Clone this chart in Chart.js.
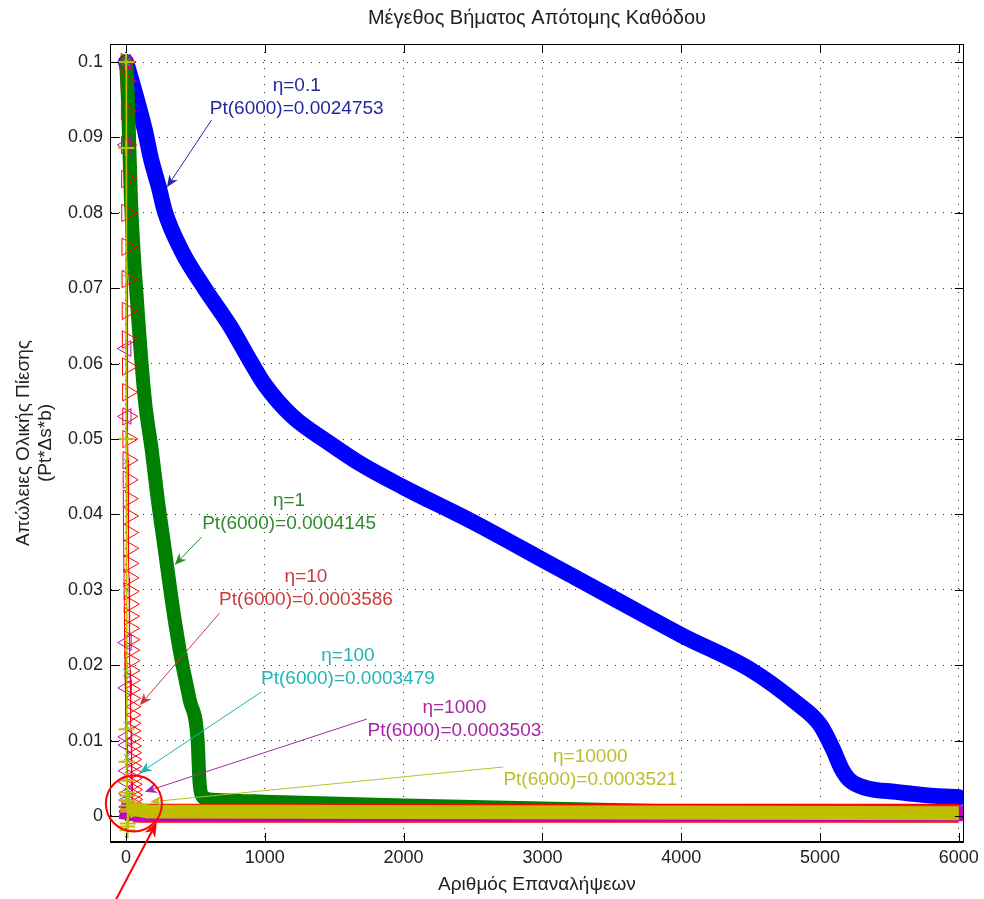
<!DOCTYPE html>
<html>
<head>
<meta charset="utf-8">
<script src="https://cdn.jsdelivr.net/npm/chart.js@4.4.1/dist/chart.umd.min.js"></script>
<style>
  html, body { margin: 0; padding: 0; background: #ffffff; }
  canvas { display: block; }
</style>
</head>
<body>
<canvas id="chart" width="984" height="899"></canvas>
<script>
// ---- data: total pressure loss per iteration for each step-size parameter η ----
const etaLabels = ['η=0.1', 'η=1', 'η=10', 'η=100', 'η=1000', 'η=10000'];
const finalLossText = ['0.0024753', '0.0004145', '0.0003586', '0.0003479', '0.0003503', '0.0003521'];

const eta01Iter = [1, 30, 79, 136, 180, 237, 280, 400, 566, 750, 900, 1000, 1200, 1462, 1700, 2000, 2500, 3000, 3500, 4000, 4500, 4830, 5000, 5090, 5154, 5211, 5333, 5548, 5800, 6000];
const eta01Loss = [0.1, 0.0982, 0.095, 0.091, 0.0872, 0.0834, 0.0802, 0.0750, 0.0700, 0.0650, 0.0602, 0.0572, 0.0530, 0.0495, 0.0466, 0.0436, 0.0390, 0.0340, 0.0290, 0.0240, 0.0194, 0.0150, 0.0121, 0.0090, 0.0063, 0.0048, 0.0037, 0.0032, 0.0027, 0.0024753];

const eta1Iter = [1, 14, 36, 79, 136, 186, 229, 280, 330, 387, 459, 516, 530, 545, 580, 700, 1000, 2000, 3000, 3500, 4000, 5000, 6000];
const eta1Loss = [0.1, 0.095, 0.0817, 0.0684, 0.0552, 0.0485, 0.042, 0.0353, 0.0286, 0.022, 0.0154, 0.0101, 0.0045, 0.0028, 0.0023, 0.0021, 0.0019, 0.0014, 0.0010, 0.0008, 0.0006, 0.0005, 0.0004145];

const eta10Iter = [1, 2, 3, 4, 5, 6, 7, 8, 9, 10, 11, 12, 13, 14, 15, 16, 17, 18, 19, 20, 21, 22, 23, 24, 25, 26, 27, 28, 29, 30, 31, 32, 33, 34, 35, 36, 37, 38, 39, 40, 41, 42, 43, 44, 45, 46, 47, 48, 49, 50, 51, 52, 53, 120, 6000];
const eta10Loss = [0.1, 0.0975, 0.0935, 0.089, 0.0845, 0.080, 0.0755, 0.0712, 0.067, 0.0632, 0.0596, 0.0562, 0.053, 0.050, 0.0472, 0.0446, 0.0421, 0.0398, 0.0376, 0.0355, 0.0335, 0.0316, 0.0298, 0.0281, 0.0265, 0.0249, 0.0234, 0.022, 0.0206, 0.0193, 0.018, 0.0168, 0.0156, 0.0145, 0.0134, 0.0123, 0.0113, 0.0103, 0.0093, 0.0084, 0.0075, 0.0066, 0.0058, 0.005, 0.0042, 0.0035, 0.0028, 0.0022, 0.0016, 0.0011, 0.0007, 0.0005, 0.0004, 0.00037, 0.0003586];

const eta100Iter = [1, 2, 3, 4, 5, 6, 7, 8, 9, 10, 11, 12, 13, 60, 6000];
const eta100Loss = [0.1, 0.072, 0.047, 0.030, 0.019, 0.012, 0.0078, 0.005, 0.0032, 0.002, 0.0013, 0.0009, 0.0006, 0.00036, 0.0003479];

const eta1000Iter = [1, 2, 3, 4, 5, 6, 7, 8, 9, 10, 11, 12, 13, 14, 15, 60, 6000];
const eta1000Loss = [0.1, 0.089, 0.062, 0.053, 0.023, 0.017, 0.0105, 0.0094, 0.006, 0.0045, 0.003, 0.0021, 0.0012, 0.0007, 0.0005, 0.00036, 0.0003503];

const eta10000Iter = [1, 2, 3, 4, 5, 6, 7, 8, 9, 10, 11, 12, 13, 14, 15, 16, 60, 160, 6000];
const eta10000Loss = [0.1, 0.0886, 0.05, 0.0115, 0.0072, 0.0047, 0.0031, 0.0021, -0.0014, 0.0027, -0.0019, 0.002, -0.001, 0.0014, 0.0009, 0.0006, 0.0009, 0.0006, 0.0003521];

const xTicks = [0, 1000, 2000, 3000, 4000, 5000, 6000];
const xTickLabels = ['0', '1000', '2000', '3000', '4000', '5000', '6000'];
const yTicks = [0, 0.01, 0.02, 0.03, 0.04, 0.05, 0.06, 0.07, 0.08, 0.09, 0.1];
const yTickLabels = ['0', '0.01', '0.02', '0.03', '0.04', '0.05', '0.06', '0.07', '0.08', '0.09', '0.1'];

// ---- styling ----
const FONT = '"Liberation Sans", Arial, Helvetica, sans-serif';
const TEXT = '#222222';
const markerUntil = 55; // iterations that keep individual markers; later points form a solid band

function toPoints(iters, vals) {
  return iters.map((x, i) => ({ x: x, y: vals[i] }));
}

function series(iters, vals, o) {
  return {
    data: toPoints(iters, vals),
    borderColor: o.color,
    backgroundColor: o.color,
    borderWidth: o.band,
    borderJoinStyle: 'round',
    borderCapStyle: o.cap || 'butt',
    tension: 0,
    cubicInterpolationMode: o.smooth ? 'monotone' : 'default',
    order: o.order,
    pointStyle: o.marker || false,
    pointRotation: o.rot || 0,
    pointRadius: ctx => (o.marker && iters[ctx.dataIndex] <= markerUntil) ? o.r : 0,
    pointBorderColor: o.color,
    pointBackgroundColor: 'rgba(0,0,0,0)',
    pointBorderWidth: o.pw || 1,
    segment: o.marker ? {
      borderWidth: ctx => iters[ctx.p1DataIndex] > markerUntil ? o.band : 1
    } : undefined
  };
}

const datasets = [
  series(eta01Iter, eta01Loss, { color: '#0000ff', band: 16, cap: 'round', order: 6, smooth: true }),
  series(eta1Iter, eta1Loss, { color: '#008000', band: 14, cap: 'round', order: 5, smooth: true }),
  series(eta10Iter, eta10Loss, { color: '#ff0000', band: 19, order: 4, marker: 'triangle', rot: 90, r: 10 }),
  series(eta100Iter, eta100Loss, { color: '#00bfbf', band: 16, order: 3, marker: 'crossRot', r: 5 }),
  series(eta1000Iter, eta1000Loss, { color: '#bf00bf', band: 16, cap: 'square', order: 2, marker: 'triangle', rot: -90, r: 9 }),
  series(eta10000Iter, eta10000Loss, { color: '#bfbf00', band: 14, order: 1, marker: 'cross', r: 8, pw: 2 })
];

// annotation layout in data coordinates: text centre (first line) and arrow tail -> head
const notes = [
  { color: '#2626a0', tx: 1230, ty: 0.0969, ax0: 616, ay0: 0.0923, ax1: 295, ay1: 0.0834 },
  { color: '#2e8b2e', tx: 1175, ty: 0.0418, ax0: 545, ay0: 0.0370, ax1: 351, ay1: 0.0333 },
  { color: '#cc3b3b', tx: 1297, ty: 0.0317, ax0: 674, ay0: 0.0269, ax1: 100, ay1: 0.0147 },
  { color: '#22b5b5', tx: 1599, ty: 0.0212, ax0: 975, ay0: 0.01645, ax1: 100, ay1: 0.0057 },
  { color: '#a626a6', tx: 2366, ty: 0.0143, ax0: 1735, ay0: 0.01286, ax1: 136, ay1: 0.0032 },
  { color: '#bdbd2a', tx: 3345, ty: 0.0078, ax0: 2717, ay0: 0.0065, ax1: 172, ay1: 0.00186 }
];
const highlight = { cx: 57, cy: 0.00166, r: 28, ax0: -115, ay0: -0.0126, ax1: 222, ay1: -0.0008 };

function drawArrow(ctx, x0, y0, x1, y1, color, width, L, W) {
  const a = Math.atan2(y1 - y0, x1 - x0);
  const c = Math.cos(a), s = Math.sin(a);
  const notch = L * 0.3;
  ctx.save();
  ctx.strokeStyle = color;
  ctx.fillStyle = color;
  ctx.lineWidth = width;
  ctx.beginPath();
  ctx.moveTo(x0, y0);
  ctx.lineTo(x1 - (L - notch) * c, y1 - (L - notch) * s);
  ctx.stroke();
  ctx.beginPath();
  ctx.moveTo(x1, y1);
  ctx.lineTo(x1 - L * c + W * s, y1 - L * s - W * c);
  ctx.lineTo(x1 - (L - notch) * c, y1 - (L - notch) * s);
  ctx.lineTo(x1 - L * c - W * s, y1 - L * s + W * c);
  ctx.closePath();
  ctx.fill();
  ctx.restore();
}

const boxAndNotes = {
  id: 'boxAndNotes',
  afterDraw(chart) {
    const { ctx, chartArea: A, scales } = chart;
    const xs = scales.x, ys = scales.y;
    const px = v => xs.getPixelForValue(v), py = v => ys.getPixelForValue(v);
    ctx.save();
    // axes box with inward tick marks on all four sides
    ctx.strokeStyle = '#000';
    ctx.lineWidth = 1;
    ctx.strokeRect(Math.round(A.left) + 0.5, Math.round(A.top) + 0.5, Math.round(A.right - A.left) - 1, Math.round(A.bottom - A.top) - 1);
    const T = 9;
    ctx.beginPath();
    xTicks.forEach(v => {
      const x = Math.round(px(v)) + 0.5;
      ctx.moveTo(x, A.bottom); ctx.lineTo(x, A.bottom - T);
      ctx.moveTo(x, A.top); ctx.lineTo(x, A.top + T);
    });
    yTicks.forEach(v => {
      const y = Math.round(py(v)) + 0.5;
      ctx.moveTo(A.left, y); ctx.lineTo(A.left + T, y);
      ctx.moveTo(A.right, y); ctx.lineTo(A.right - T, y);
    });
    ctx.stroke();

    // per-series labels with arrows
    ctx.font = '19px ' + FONT;
    ctx.textAlign = 'center';
    ctx.textBaseline = 'middle';
    notes.forEach((n, i) => {
      ctx.fillStyle = n.color;
      const x = px(n.tx), y = py(n.ty);
      ctx.fillText(etaLabels[i], x, y);
      ctx.fillText('Pt(6000)=' + finalLossText[i], x, y + 23);
      drawArrow(ctx, px(n.ax0), py(n.ay0), px(n.ax1), py(n.ay1), n.color, 1, 12, 5);
    });

    // highlight ring around the crowded start region
    ctx.strokeStyle = '#ff0000';
    ctx.lineWidth = 2;
    ctx.beginPath();
    ctx.ellipse(px(highlight.cx), py(highlight.cy), highlight.r, highlight.r, 0, 0, Math.PI * 2);
    ctx.stroke();
    drawArrow(ctx, px(highlight.ax0), py(highlight.ay0), px(highlight.ax1), py(highlight.ay1), '#ff0000', 2, 15, 6);
    ctx.restore();
  }
};

const axisFont = { family: FONT, size: 18 };
const labelFont = { family: FONT, size: 19 };

new Chart(document.getElementById('chart'), {
  type: 'line',
  data: { datasets: datasets },
  options: {
    responsive: false,
    animation: false,
    devicePixelRatio: 1,
    events: [],
    layout: { padding: { left: 0, right: 16, top: 0, bottom: 0 } },
    plugins: {
      legend: { display: false },
      tooltip: { enabled: false },
      title: {
        display: true,
        text: 'Μέγεθος Βήματος Απότομης Καθόδου',
        font: { family: FONT, size: 20, weight: 'normal' },
        color: TEXT,
        fullSize: false,
        padding: { top: 6, bottom: 14 }
      }
    },
    scales: {
      x: {
        type: 'linear',
        min: -115,
        max: 6036,
        afterBuildTicks: s => { s.ticks = xTicks.map(v => ({ value: v })); },
        afterFit: s => { s.height = 57; },
        ticks: {
          callback: (v, i) => xTickLabels[i],
          font: axisFont, color: TEXT, padding: 5,
          maxRotation: 0, autoSkip: false
        },
        grid: { color: 'rgba(0,0,0,0.8)', lineWidth: 1, drawTicks: false },
        border: { display: true, color: '#000', width: 1, dash: [1, 7] },
        title: {
          display: true, text: 'Αριθμός Επαναλήψεων',
          font: labelFont, color: TEXT, padding: { top: 0, bottom: 3 }
        }
      },
      y: {
        type: 'linear',
        min: -0.00345,
        max: 0.1024,
        afterBuildTicks: s => { s.ticks = yTicks.map(v => ({ value: v })); },
        afterFit: s => { s.width = 110; },
        ticks: {
          callback: (v, i) => yTickLabels[i],
          font: axisFont, color: TEXT, padding: 7, autoSkip: false
        },
        grid: { color: 'rgba(0,0,0,0.8)', lineWidth: 1, drawTicks: false },
        border: { display: true, color: '#000', width: 1, dash: [1, 7] },
        title: {
          display: true, text: ['Απώλειες Ολικής Πίεσης', '(Pt*Δs*b)'],
          font: labelFont, color: TEXT, padding: { top: 12, bottom: 0 }
        }
      }
    }
  },
  plugins: [boxAndNotes]
});
</script>
</body>
</html>
